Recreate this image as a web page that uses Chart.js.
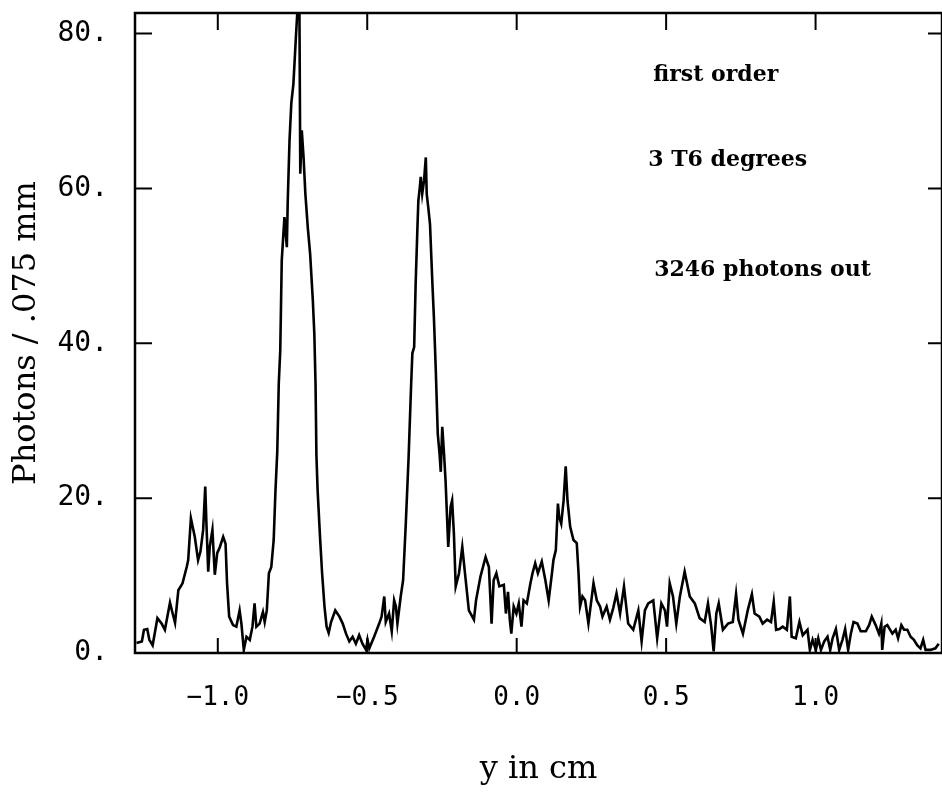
<!DOCTYPE html>
<html>
<head>
<meta charset="utf-8">
<script src="https://cdn.jsdelivr.net/npm/chart.js@4/dist/chart.umd.min.js"></script>
<style>
  body { margin: 0; background: #fff; }
</style>
</head>
<body>
<canvas id="chart" width="942" height="794"></canvas>
<script>
// photon counts per .075 mm bin
const yPos = [
  -1.272, -1.254, -1.247, -1.236, -1.229, -1.218, -1.202, -1.188, -1.177, -1.160,
  -1.151, -1.143, -1.132, -1.118, -1.104, -1.099, -1.090, -1.077, -1.066, -1.058,
  -1.049, -1.042, -1.038, -1.032, -1.027, -1.018, -1.010, -1.002, -0.993, -0.982,
  -0.974, -0.969, -0.962, -0.949, -0.938, -0.927, -0.921, -0.913, -0.904, -0.893,
  -0.884, -0.877, -0.871, -0.860, -0.849, -0.843, -0.836, -0.829, -0.821, -0.813,
  -0.807, -0.801, -0.796, -0.791, -0.786, -0.777, -0.769, -0.766, -0.760, -0.754,
  -0.747, -0.738, -0.732, -0.727, -0.724, -0.719, -0.713, -0.707, -0.699, -0.691,
  -0.682, -0.677, -0.673, -0.670, -0.666, -0.658, -0.651, -0.643, -0.636, -0.629,
  -0.621, -0.607, -0.593, -0.582, -0.571, -0.560, -0.549, -0.538, -0.527, -0.516,
  -0.504, -0.499, -0.493, -0.477, -0.460, -0.452, -0.443, -0.438, -0.427, -0.418,
  -0.410, -0.404, -0.399, -0.388, -0.380, -0.371, -0.362, -0.353, -0.349, -0.343,
  -0.338, -0.332, -0.329, -0.324, -0.321, -0.316, -0.310, -0.304, -0.301, -0.296,
  -0.290, -0.282, -0.277, -0.271, -0.264, -0.258, -0.254, -0.249, -0.243, -0.238,
  -0.229, -0.221, -0.216, -0.210, -0.204, -0.193, -0.182, -0.173, -0.160, -0.143,
  -0.136, -0.121, -0.104, -0.093, -0.084, -0.077, -0.068, -0.058, -0.043, -0.036,
  -0.029, -0.023, -0.018, -0.010, -0.001, 0.007, 0.016, 0.023, 0.034, 0.046,
  0.053, 0.062, 0.071, 0.084, 0.096, 0.104, 0.107, 0.118, 0.123, 0.131,
  0.138, 0.142, 0.149, 0.157, 0.164, 0.170, 0.179, 0.190, 0.201, 0.207,
  0.212, 0.220, 0.229, 0.240, 0.257, 0.268, 0.279, 0.287, 0.301, 0.312,
  0.323, 0.334, 0.346, 0.359, 0.373, 0.390, 0.407, 0.418, 0.429, 0.440,
  0.457, 0.470, 0.484, 0.496, 0.503, 0.512, 0.523, 0.534, 0.546, 0.562,
  0.579, 0.596, 0.612, 0.629, 0.640, 0.651, 0.659, 0.668, 0.676, 0.690,
  0.707, 0.723, 0.734, 0.742, 0.757, 0.773, 0.787, 0.796, 0.812, 0.823,
  0.838, 0.851, 0.860, 0.868, 0.879, 0.890, 0.904, 0.914, 0.920, 0.934,
  0.946, 0.957, 0.973, 0.981, 0.990, 1.001, 1.009, 1.018, 1.029, 1.040,
  1.049, 1.057, 1.068, 1.079, 1.090, 1.099, 1.109, 1.118, 1.127, 1.140,
  1.151, 1.168, 1.179, 1.188, 1.201, 1.212, 1.220, 1.223, 1.231, 1.240,
  1.257, 1.268, 1.276, 1.287, 1.296, 1.307, 1.318, 1.329, 1.340, 1.351,
  1.360, 1.368, 1.384, 1.401, 1.412
];
const photons = [
  1.3, 1.5, 3.0, 3.1, 1.7, 1.0, 4.5, 3.8, 3.0, 6.5,
  5.1, 3.9, 8.1, 9.0, 11.1, 12.0, 17.4, 15.0, 12.0, 13.1,
  15.9, 21.5, 16.7, 10.5, 13.7, 15.9, 10.1, 12.9, 13.7, 15.0,
  14.1, 9.0, 4.7, 3.6, 3.4, 5.5, 3.8, 0.4, 2.1, 1.7,
  3.4, 6.4, 3.4, 3.8, 5.3, 4.0, 5.5, 10.3, 11.1, 14.6,
  21.0, 26.0, 34.8, 39.1, 50.7, 56.3, 52.4, 58.3, 66.2, 71.0,
  73.5, 80.0, 84.0, 84.0, 61.9, 67.5, 64.0, 59.3, 55.0, 51.5,
  45.5, 41.2, 34.8, 25.5, 21.0, 15.0, 10.3, 6.0, 3.4, 2.6,
  4.0, 5.5, 4.7, 3.8, 2.5, 1.5, 2.1, 1.2, 2.3, 1.2,
  0.4, 1.7, 0.6, 2.1, 3.8, 4.7, 7.3, 4.0, 5.1, 2.8,
  6.8, 6.0, 3.8, 7.3, 9.4, 16.7, 24.9, 34.8, 38.7, 39.5,
  47.7, 55.0, 58.4, 60.2, 61.5, 59.3, 61.0, 64.0, 59.3, 57.6,
  55.4, 47.7, 43.4, 36.9, 28.3, 25.7, 23.4, 29.2, 25.7, 22.3,
  13.7, 18.9, 19.7, 15.4, 8.6, 10.3, 13.7, 10.3, 5.5, 4.3,
  6.8, 9.9, 12.4, 11.1, 3.8, 9.4, 10.3, 8.6, 8.8, 5.1,
  7.9, 4.3, 2.5, 6.0, 5.1, 6.4, 3.4, 6.8, 6.4, 9.0,
  10.3, 11.6, 10.3, 11.8, 9.4, 7.5, 6.8, 10.3, 12.0, 13.3,
  19.3, 17.6, 16.7, 19.7, 24.1, 19.7, 16.3, 14.6, 14.2, 10.3,
  6.0, 7.3, 6.8, 3.8, 9.0, 6.8, 6.0, 4.7, 6.0, 4.3,
  5.8, 7.7, 5.1, 8.6, 3.8, 3.0, 5.5, 1.5, 5.5, 6.4,
  6.8, 1.9, 6.4, 5.5, 3.4, 9.0, 7.3, 3.8, 7.3, 10.5,
  7.3, 6.4, 4.5, 4.0, 6.4, 3.4, 0.2, 5.1, 6.4, 3.0,
  3.8, 4.0, 7.6, 4.3, 2.5, 5.5, 7.6, 5.1, 4.7, 3.8,
  4.3, 4.0, 6.6, 3.0, 3.1, 3.4, 3.0, 7.3, 2.1, 1.9,
  4.0, 2.3, 3.0, 0.4, 1.7, 0.4, 1.9, 0.4, 1.5, 2.1,
  0.4, 1.9, 3.1, 0.4, 1.7, 3.1, 0.4, 2.5, 4.0, 3.8,
  2.8, 2.8, 3.6, 4.7, 3.6, 2.5, 3.8, 0.4, 3.4, 3.6,
  2.5, 3.0, 1.9, 3.6, 3.0, 3.0, 2.1, 1.7, 1.0, 0.6,
  1.7, 0.4, 0.4, 0.6, 1.2
];
const xTicks = [-1.0, -0.5, 0.0, 0.5, 1.0];
const yTicks = [0, 20, 40, 60, 80];
const notes = [
  { text: 'first order', x: 0.457, y: 74.6 },
  { text: '3 T6 degrees', x: 0.44, y: 63.6 },
  { text: '3246 photons out', x: 0.46, y: 49.4 }
];

const fmtX = v => (v < 0 ? '\u2212' : '') + Math.abs(v).toFixed(1);

// box around the plot, inward ticks on all four sides, and the text notes
const framePlugin = {
  id: 'frame',
  afterDatasetsDraw(chart) {
    const { ctx, chartArea: a, scales: { x, y } } = chart;
    ctx.save();
    ctx.strokeStyle = '#000';
    ctx.lineWidth = 2.5;
    ctx.strokeRect(a.left, a.top, a.right - a.left, a.bottom - a.top);
    ctx.lineWidth = 2;
    ctx.beginPath();
    xTicks.forEach(v => {
      const px = x.getPixelForValue(v);
      ctx.moveTo(px, a.bottom); ctx.lineTo(px, a.bottom - 15);
      ctx.moveTo(px, a.top); ctx.lineTo(px, a.top + 17);
    });
    yTicks.forEach(v => {
      if (v === 0) return;
      const py = y.getPixelForValue(v);
      ctx.moveTo(a.left, py); ctx.lineTo(a.left + 17, py);
      ctx.moveTo(a.right, py); ctx.lineTo(a.right - 14, py);
    });
    ctx.stroke();
    ctx.fillStyle = '#000';
    ctx.font = 'bold 22px "DejaVu Serif"';
    ctx.textBaseline = 'middle';
    ctx.textAlign = 'left';
    notes.forEach(n => ctx.fillText(n.text, x.getPixelForValue(n.x), y.getPixelForValue(n.y)));
    ctx.restore();
  }
};

new Chart(document.getElementById('chart'), {
  type: 'line',
  data: {
    datasets: [{
      data: yPos.map((v, i) => ({ x: v, y: photons[i] })),
      borderColor: '#000',
      borderWidth: 2.6,
      pointRadius: 0,
      tension: 0,
      fill: false
    }]
  },
  options: {
    responsive: false,
    animation: false,
    layout: { padding: { top: 13, right: -3, left: 0, bottom: 0 } },
    plugins: { legend: { display: false }, tooltip: { enabled: false } },
    scales: {
      x: {
        type: 'linear',
        min: -1.277,
        max: 1.423,
        afterBuildTicks: s => { s.ticks = xTicks.map(v => ({ value: v })); },
        afterFit: s => { s.height = 141; s.paddingLeft = 0; s.paddingRight = 0; },
        grid: { display: false, drawTicks: false },
        border: { display: false },
        ticks: {
          callback: v => fmtX(v),
          color: '#000',
          font: { family: 'DejaVu Sans Mono', size: 26 },
          padding: 30,
          maxRotation: 0
        },
        title: {
          display: true,
          text: 'y in cm',
          color: '#000',
          font: { family: 'DejaVu Serif', size: 32 },
          padding: { top: 0, bottom: 5 }
        }
      },
      y: {
        min: 0,
        max: 82.65,
        afterBuildTicks: s => { s.ticks = yTicks.map(v => ({ value: v })); },
        afterFit: s => { s.width = 135; s.paddingTop = 0; s.paddingBottom = 0; },
        grid: { display: false, drawTicks: false },
        border: { display: false },
        ticks: {
          callback: v => v + '.',
          color: '#000',
          font: { family: 'DejaVu Sans Mono', size: 28 },
          padding: 27
        },
        title: {
          display: true,
          text: 'Photons / .075 mm',
          color: '#000',
          font: { family: 'DejaVu Serif', size: 32 },
          padding: { top: 7, bottom: 0 }
        }
      }
    }
  },
  plugins: [framePlugin]
});
</script>
</body>
</html>
